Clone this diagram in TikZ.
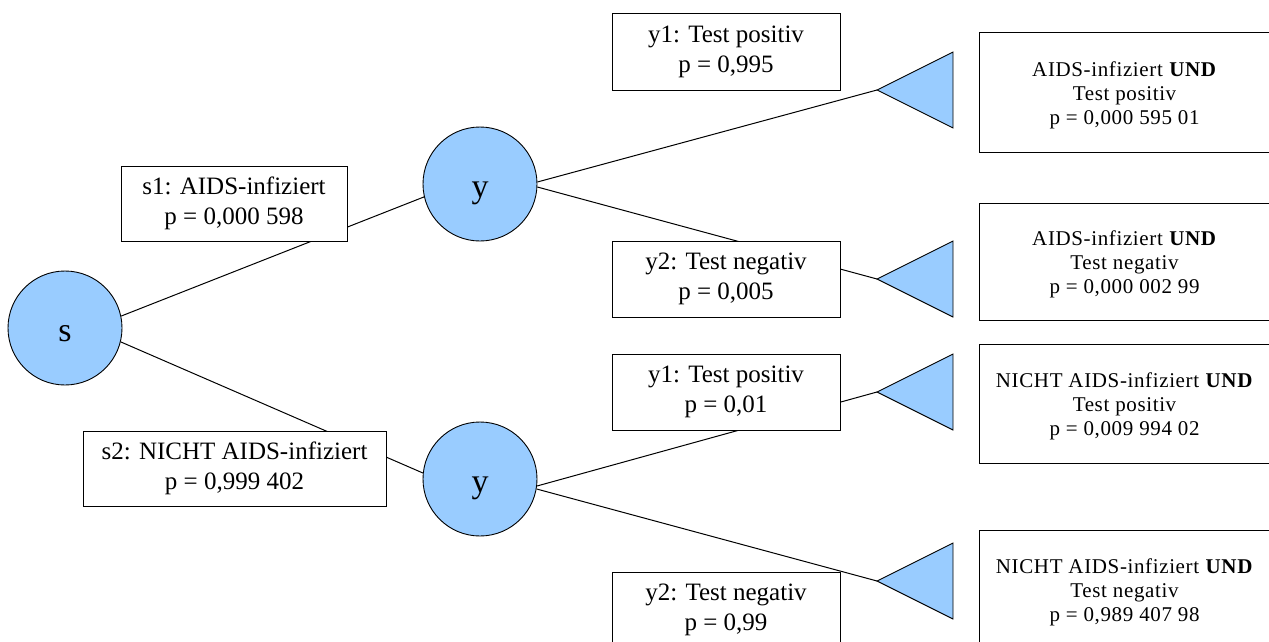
\documentclass[tikz,border=0pt]{standalone}
\usepackage{fontspec}
\setmainfont{Liberation Serif}
\newfontfamily\resfont[LetterSpace=3]{Liberation Serif}
\definecolor{nodeblue}{HTML}{99CCFF}
\pgfdeclarelayer{bg}
\pgfsetlayers{bg,main}
\begin{document}
\begin{tikzpicture}[x=1pt,y=-1pt,
  conn/.style={draw=black,line width=1pt},
  chance/.style={circle,draw=black,line width=0.9pt,fill=nodeblue,
    minimum size=114pt,inner sep=0pt,text height=26pt,text depth=0pt,
    font=\fontsize{34}{38}\selectfont},
  lbl/.style={rectangle,draw=black,line width=1pt,fill=white,align=center,
    inner sep=0pt,font=\fontsize{25}{30}\selectfont},
  res/.style={rectangle,draw=black,line width=1pt,fill=white,
    inner sep=0pt,minimum width=291pt},
  restext/.style={align=center,inner sep=0pt,
    font=\resfont\fontsize{21}{24}\selectfont},
  endtri/.style={draw=black,line width=0.9pt,fill=nodeblue,line join=miter}]
\useasboundingbox (0,0) rectangle (1269,642);
\clip (0,0) rectangle (1269,642);

% chance nodes
\node[chance] (s)  at (65,328)  {s};
\node[chance] (ua) at (480,184) {y};
\node[chance] (la) at (480,479) {y};

% branch labels
\node[lbl,minimum width=226pt,minimum height=75pt] (s1) at (234,203.5)
  {s1: AIDS-infiziert\\p = 0,000 598};
\node[lbl,minimum width=303pt,minimum height=75pt] (s2) at (234.5,468.5)
  {s2: NICHT AIDS-infiziert\\p = 0,999 402};
\node[lbl,minimum width=228pt,minimum height=76pt] (uy1) at (726,52)
  {y1: Test positiv\\p = 0,995};
\node[lbl,minimum width=228pt,minimum height=76pt] (uy2) at (726,279)
  {y2: Test negativ\\p = 0,005};
\node[lbl,minimum width=228pt,minimum height=76pt] (ly1) at (726,392)
  {y1: Test positiv\\p = 0,01};
\node[lbl,minimum width=228pt,minimum height=76pt] (ly2) at (726,610)
  {y2: Test negativ\\p = 0,99};

% end points (triangles)
\coordinate (t1) at (877,90);
\coordinate (t2) at (877,279);
\coordinate (t3) at (877,392);
\coordinate (t4) at (877,581);
\foreach \t in {t1,t2,t3,t4}
  \draw[endtri] (\t) -- ++(76,-38) -- ++(0,76) -- cycle;

% outcomes
\node[res,minimum height=119pt] (r1) at (1124.5,92.5) {};
\node[res,minimum height=117pt] (r2) at (1124.5,261.5) {};
\node[res,minimum height=119pt] (r3) at (1124.5,403.5) {};
\node[res,minimum height=118pt] (r4) at (1124.5,589) {};
\node[restext] (r1t) at ([yshift=-3pt]r1.center)
  {AIDS-infiziert \textbf{UND}\\Test positiv\\p = 0,000 595 01};
\node[restext] (r2t) at ([yshift=-3pt]r2.center)
  {AIDS-infiziert \textbf{UND}\\Test negativ\\p = 0,000 002 99};
\node[restext] (r3t) at ([yshift=-3pt]r3.center)
  {NICHT AIDS-infiziert \textbf{UND}\\Test positiv\\p = 0,009 994 02};
\node[restext] (r4t) at ([yshift=-3pt]r4.center)
  {NICHT AIDS-infiziert \textbf{UND}\\Test negativ\\p = 0,989 407 98};

% branches, drawn beneath the labels
\begin{pgfonlayer}{bg}
  \draw[conn] (s.12)  -- (ua.193);
  \draw[conn] (s.-14) -- (la.174);
  \draw[conn] (ua.2)  -- (t1);
  \draw[conn] (ua.-3) -- (t2);
  \draw[conn] (la.-7) -- (t3);
  \draw[conn] (la.-10) -- (t4);
\end{pgfonlayer}
\end{tikzpicture}
\end{document}
